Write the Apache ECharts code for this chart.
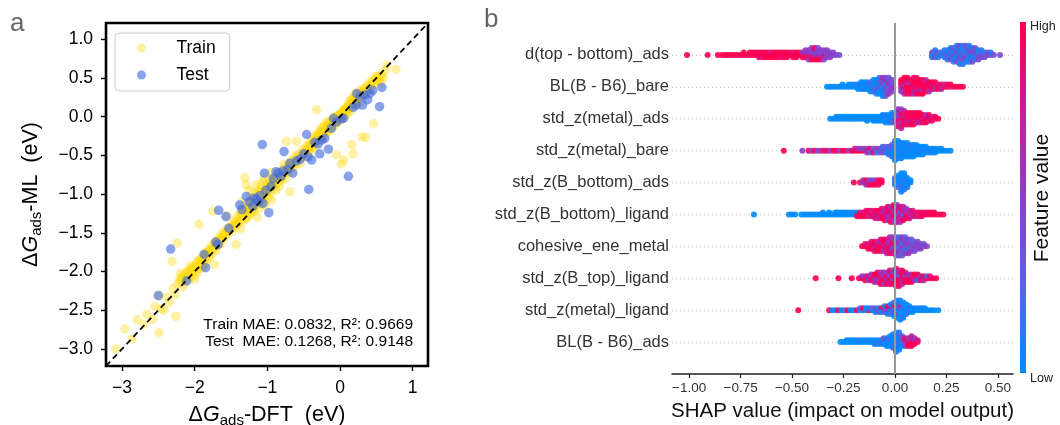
<!DOCTYPE html>
<html><head><meta charset="utf-8">
<script src="https://cdn.jsdelivr.net/npm/echarts@6/dist/echarts.min.js"></script>
<style>html,body{margin:0;padding:0;background:#fff}#c{width:1060px;height:425px}</style>
</head><body><div id="c"></div>
<script>
// ---------------- Panel a data ----------------
const parityLimits = [-3.22, 1.21];
const parityXTicks = [-3, -2, -1, 0, 1];
const parityXLabels = ['−3', '−2', '−1', '0', '1'];
const parityYTicks = [1, 0.5, 0, -0.5, -1, -1.5, -2, -2.5, -3];
const parityYLabels = ['1.0', '0.5', '0.0', '−0.5', '−1.0', '−1.5', '−2.0', '−2.5', '−3.0'];
const metricLines = ['Train MAE: 0.0832, R²: 0.9669', 'Test  MAE: 0.1268, R²: 0.9148'];

const trainPoints = [
[-3.08,-3.0],[-2.96,-2.74],[-2.86,-2.87],[-2.79,-2.62],[-2.7,-2.68],[-2.66,-2.55],[-2.58,-2.62],[-2.55,-2.45],[-2.49,-2.79],[-2.49,-2.31],[-2.46,-2.48],[-2.42,-2.5],[-2.38,-2.33],[-2.35,-2.4],[-2.31,-1.87],[-2.3,-2.22],[-2.27,-2.3],[-2.26,-2.58],[-2.24,-1.63],[-2.23,-2.16],[-2.2,-2.08],[-2.19,-2.02],[-2.17,-2.2],[-2.15,-2.05],[-2.13,-2.14],[-2.1,-2.0],[-2.08,-2.1],[-2.06,-1.93],[-2.05,-2.03],[-2.03,-1.98],[-2.0,-1.92],[-1.99,-2.02],[-1.97,-1.88],[-1.96,-1.97],[-1.94,-1.39],[-1.93,-1.9],[-1.92,-1.84],[-1.9,-1.95],[-1.89,-1.8],[-1.87,-1.86],[-1.86,-1.76],[-1.85,-1.9],[-1.83,-1.75],[-1.82,-1.83],[-1.8,-1.72],[-1.79,-1.8],[-1.78,-1.68],[-1.76,-1.77],[-1.75,-1.22],[-1.74,-1.7],[-1.73,-1.91],[-1.72,-1.62],[-1.7,-1.72],[-1.69,-1.6],[-1.68,-1.66],[-1.66,-1.56],[-1.65,-1.64],[-1.63,-1.52],[-1.62,-1.6],[-1.6,-1.5],[-1.58,-1.55],[-1.56,-1.45],[-1.55,-1.28],[-1.53,-1.5],[-1.5,-1.42],[-1.48,-1.47],[-1.46,-1.36],[-1.44,-1.42],[-1.43,-1.65],[-1.42,-1.3],[-1.4,-1.38],[-1.38,-1.26],[-1.37,-1.45],[-1.35,-1.3],[-1.33,-1.2],[-1.31,-0.79],[-1.3,-1.32],[-1.29,-0.88],[-1.28,-1.22],[-1.27,-1.15],[-1.26,-1.28],[-1.25,-1.18],[-1.24,-1.1],[-1.23,-1.25],[-1.22,-1.05],[-1.21,-1.2],[-1.2,-1.12],[-1.19,-0.98],[-1.18,-1.22],[-1.17,-1.08],[-1.16,-1.15],[-1.15,-1.0],[-1.14,-1.3],[-1.13,-1.1],[-1.12,-0.95],[-1.11,-1.18],[-1.1,-1.05],[-1.09,-0.9],[-1.08,-1.12],[-1.07,-1.0],[-1.06,-0.85],[-1.05,-1.08],[-1.04,-0.95],[-1.03,-1.15],[-1.02,-0.92],[-1.01,-1.0],[-1.0,-0.88],[-0.99,-1.05],[-0.98,-0.95],[-0.97,-0.82],[-0.96,-0.98],[-0.95,-0.9],[-0.94,-1.08],[-0.93,-0.85],[-0.92,-0.93],[-0.91,-0.78],[-0.9,-0.88],[-0.89,-0.82],[-0.88,-0.95],[-0.87,-0.78],[-0.86,-0.86],[-0.85,-0.72],[-0.84,-0.8],[-0.83,-0.9],[-0.82,-0.74],[-0.8,-0.82],[-0.79,-0.68],[-0.78,-0.76],[-0.77,-0.62],[-0.76,-0.72],[-0.75,-0.8],[-0.74,-0.32],[-0.73,-0.66],[-0.72,-0.72],[-0.71,-0.6],[-0.7,-0.7],[-0.69,-0.97],[-0.68,-0.62],[-0.66,-0.56],[-0.65,-0.66],[-0.64,-0.58],[-0.62,-0.52],[-0.6,-0.32],[-0.6,-0.62],[-0.58,-0.55],[-0.56,-0.48],[-0.55,-0.6],[-0.53,-0.5],[-0.51,-0.42],[-0.5,-0.52],[-0.48,-0.45],[-0.46,-0.38],[-0.45,-0.48],[-0.43,-0.4],[-0.42,-0.34],[-0.41,-0.45],[-0.4,-0.36],[-0.38,-0.3],[-0.37,-0.4],[-0.36,-0.33],[-0.35,-0.25],[-0.34,-0.37],[-0.33,-0.3],[-0.32,0.09],[-0.31,-0.22],[-0.3,-0.32],[-0.29,-0.26],[-0.28,-0.18],[-0.27,-0.28],[-0.26,-0.2],[-0.25,-0.14],[-0.24,-0.26],[-0.23,-0.18],[-0.22,-0.12],[-0.21,-0.22],[-0.2,-0.15],[-0.19,-0.08],[-0.18,-0.2],[-0.17,-0.12],[-0.16,-0.06],[-0.15,-0.16],[-0.14,-0.1],[-0.13,-0.18],[-0.12,-0.05],[-0.11,-0.13],[-0.1,-0.08],[-0.09,-0.02],[-0.08,-0.12],[-0.07,-0.05],[-0.06,0.0],[-0.05,-0.49],[-0.05,-0.08],[-0.04,-0.03],[-0.03,0.02],[-0.02,-0.06],[-0.01,-0.01],[0.0,0.03],[0.01,-0.04],[0.02,-0.61],[0.02,0.02],[0.03,0.06],[0.04,-0.02],[0.05,-0.56],[0.05,0.05],[0.06,0.1],[0.07,0.0],[0.08,0.08],[0.09,0.12],[0.1,0.04],[0.11,0.15],[0.12,0.1],[0.13,0.2],[0.14,0.07],[0.15,0.18],[0.16,-0.36],[0.16,0.22],[0.17,0.13],[0.18,-0.48],[0.18,0.25],[0.19,0.18],[0.2,0.28],[0.21,0.2],[0.22,0.3],[0.23,0.24],[0.24,0.15],[0.25,0.3],[0.26,0.26],[0.27,0.34],[0.28,0.2],[0.3,-0.26],[0.3,0.32],[0.31,0.27],[0.33,0.36],[0.35,-0.27],[0.35,0.3],[0.37,0.4],[0.39,0.34],[0.41,0.44],[0.43,0.38],[0.45,0.48],[0.46,-0.09],[0.47,0.42],[0.49,0.52],[0.51,0.46],[0.53,0.5],[0.55,0.44],[0.57,0.55],[0.6,0.5],[0.62,0.6],[0.645,0.665],[0.77,0.61],
[-2.21,-2.12],[-2.18,-2.1],[-2.14,-2.08],[-2.12,-2.02],[-2.09,-2.06],[-2.07,-1.98],[-2.04,-1.96],[-2.02,-2.06],[-1.98,-1.94],[-1.95,-1.86],[-1.91,-1.88],[-1.88,-1.92],[-1.84,-1.78],[-1.81,-1.74],[-1.77,-1.72],[-1.74,-1.64],[-1.71,-1.66],[-1.67,-1.6],[-1.64,-1.58],[-1.61,-1.55],[-2.0,-2.1],[-1.95,-2.0],[-1.9,-1.82],[-1.86,-1.82],
[-1.59,-1.52],[-1.55,-1.48],[-1.52,-1.45],[-1.49,-1.4],[-1.45,-1.4],[-1.41,-1.35],
[-1.39,-1.33],[-1.36,-1.24],[-1.34,-1.35],[-1.32,-1.25],[-1.3,-1.18],[-1.28,-1.3],[-1.26,-1.2],[-1.24,-1.16],[-1.22,-1.14],[-1.2,-1.22],[-1.18,-1.12],[-1.16,-1.06],[-1.14,-1.12],[-1.12,-1.04],[-1.1,-0.98],[-1.08,-1.06],[-1.06,-0.98],[-1.04,-1.02],[-1.02,-0.96],[-1.0,-0.94],[-0.98,-0.88],[-0.96,-0.92],[-0.94,-0.86],[-0.92,-0.88],[-0.9,-0.82],[-0.88,-0.86],[-0.86,-0.8],[-0.84,-0.76],[-1.25,-0.95],[-1.15,-0.88],[-1.35,-1.1],[-1.05,-0.8],[-0.95,-0.72],
[-0.82,-0.8],[-0.79,-0.74],[-0.76,-0.68],[-0.73,-0.7],[-0.7,-0.64],[-0.67,-0.62],[-0.63,-0.6],[-0.59,-0.5],[-0.54,-0.52],[-0.5,-0.46],[-0.47,-0.44],
[-0.44,-0.44],[-0.4,-0.4],[-0.36,-0.36],[-0.33,-0.27],[-0.3,-0.25],[-0.27,-0.24],[-0.24,-0.2],[-0.21,-0.18],[-0.18,-0.15],[-0.15,-0.12],[-0.12,-0.1],[-0.1,-0.04],[-0.07,-0.02],[-0.04,0.0],[-0.02,0.01],[0.01,0.04],[0.04,0.08],[0.07,0.09],[0.1,0.12],[0.13,0.14],[0.16,0.17],[0.19,0.22],[0.22,0.22],[0.25,0.25],[0.28,0.3],[0.32,0.33],[0.36,0.36],[0.4,0.4],[0.44,0.42],[0.48,0.47],[0.52,0.52],[0.56,0.5]
];
const testPoints = [
[-2.5,-2.31],[-2.33,-1.71],[-2.11,-2.12],[-1.87,-1.78],[-1.85,-1.95],[-1.71,-1.62],[-1.68,-1.65],[-1.67,-1.21],[-1.57,-1.29],[-1.53,-1.44],[-1.38,-1.14],[-1.35,-1.2],[-1.29,-1.03],[-1.25,-1.1],[-1.2,-1.16],[-1.18,-1.05],[-1.15,-1.07],[-1.12,-1.1],[-1.1,-1.02],[-1.07,-0.36],[-1.06,-1.12],[-1.04,-0.73],[-1.02,-0.95],[-0.98,-1.24],[-0.95,-0.9],[-0.92,-0.8],[-0.88,-0.71],[-0.85,-0.73],[-0.81,-0.77],[-0.78,-0.7],[-0.77,-0.45],[-0.72,-0.68],[-0.69,-0.6],[-0.65,-0.73],[-0.6,-0.57],[-0.55,-0.55],[-0.5,-0.48],[-0.46,-0.23],[-0.44,-0.52],[-0.43,-0.94],[-0.39,-0.56],[-0.35,-0.33],[-0.3,-0.35],[-0.28,-0.48],[-0.25,-0.3],[-0.21,-0.28],[-0.16,-0.42],[-0.12,-0.15],[-0.09,-0.02],[-0.05,-0.07],[0.02,-0.03],[0.05,-0.02],[0.115,-0.77],[0.18,0.12],[0.22,0.15],[0.23,0.3],[0.28,0.26],[0.31,0.15],[0.34,0.28],[0.38,0.22],[0.41,0.3],[0.45,0.34],[0.544,0.129],[0.576,0.378]
];

// ---------------- Panel b data ----------------
// feature names, top row first
const featureNames = ['d(top - bottom)_ads','BL(B - B6)_bare','std_z(metal)_ads','std_z(metal)_bare','std_z(B_bottom)_ads','std_z(B_bottom)_ligand','cohesive_ene_metal','std_z(B_top)_ligand','std_z(metal)_ligand','BL(B - B6)_ads'];
const shapTicks = [-1, -0.75, -0.5, -0.25, 0, 0.25, 0.5];
const shapTickLabels = ['−1.00', '−0.75', '−0.50', '−0.25', '0.00', '0.25', '0.50'];
const shapLimits = [-1.083, 0.573];
// each entry: [SHAP value, [feature value (0 low .. 1 high) of every sample at that value]]
const shapDTopBottomAds = [
[-1.01,[1]],[-0.91,[1]],[-0.86,[1]],[-0.84,[1]],[-0.825,[1]],[-0.81,[1]],[-0.795,[1]],[-0.78,[1]],[-0.765,[1]],[-0.75,[1]],[-0.735,[1,1]],[-0.72,[1]],[-0.705,[1,1]],
[-0.69,[1,1]],[-0.675,[1,1]],[-0.66,[1,1,1]],[-0.645,[1,1,0.85]],[-0.63,[1,1,1]],[-0.615,[1,1,1]],[-0.6,[1,0.85,1]],[-0.585,[1,1,1]],[-0.57,[1,1,1]],[-0.555,[1,1,0.85]],[-0.54,[1,1,1]],[-0.525,[1,1,1]],[-0.51,[1,1]],[-0.495,[1,0.85,1]],[-0.48,[1,1,1]],[-0.465,[1,1]],[-0.45,[1,0.6,1]],
[-0.435,[0.5,0.6,1,0.5]],[-0.42,[0.5,0.45,1,0.55,0.5]],[-0.405,[0.45,0.5,1,0.5,1,0.45]],[-0.39,[0.5,0.45,0.55,0.5,1,1]],[-0.375,[0.45,0.5,0.6,0.45,1,0.5]],[-0.36,[0.5,0.45,0.5,0.5,1]],[-0.345,[0.45,0.5,1,0.5,0.45]],[-0.33,[0.5,0.45,0.55,0.5]],[-0.315,[0.45,0.5,0.5]],[-0.3,[0.45,0.5]],[-0.285,[0.45]],[-0.27,[0.4]],
[0.18,[0.1,0.4,0.1]],[0.195,[0.1,0.1,0.4,0.1]],[0.21,[0.1,0.35,0.1]],[0.225,[0.1,0.1]],[0.24,[0.1,0.4,0.1,0.1]],[0.255,[0.1,0.1,0.4,0.1,0.1]],[0.27,[0.1,0.4,0.1,0.1,0.45,0.1]],[0.285,[0.1,0.1,0.4,0.1,0.1,0.35,0.1]],[0.3,[0.1,0.4,0.1,0.45,0.1,0.1,0.4,0.1]],[0.315,[0.1,0.1,0.4,0.1,0.45,0.1,0.1,0.4,0.1]],[0.33,[0.1,0.4,0.1,0.1,0.45,0.1,0.35,0.1,0.1]],[0.345,[0.1,0.1,0.45,0.1,0.4,0.1,0.1,0.4]],[0.36,[0.4,0.1,0.1,0.45,0.1,0.4,0.1,0.1]],[0.375,[0.1,0.45,0.1,0.4,0.1,0.1,0.45]],[0.39,[0.1,0.4,0.1,0.45,0.1,0.4]],[0.405,[0.4,0.1,0.45,0.1,0.4]],[0.42,[0.1,0.4,0.45,0.1]],[0.435,[0.4,0.1,0.4]],[0.45,[0.4,0.45]],[0.465,[0.4,0.1]],[0.48,[0.4]],[0.51,[0.4]]
];
const shapBLBareB6 = [
[-0.33,[0]],[-0.315,[0]],[-0.3,[0]],[-0.285,[0]],[-0.27,[0]],[-0.255,[0,0]],[-0.24,[0]],[-0.225,[0,0]],[-0.21,[0,0]],[-0.195,[0,0]],[-0.18,[0,0.1,0]],[-0.165,[0,0.1,0,0]],[-0.15,[0,0,0.1,0]],[-0.135,[0,0.1,0,0]],[-0.12,[0,0.1,0,0.3,0]],[-0.105,[0.1,0,0.3,0,0.1,0]],[-0.09,[0,0.3,0.1,0,0.4,0,0.1]],[-0.075,[0.1,0,0.4,0.1,0,0.3,0,0.1]],[-0.06,[0,0.4,0.1,0.5,0,0.3,0.1,0.6,0]],[-0.045,[0.3,0.1,0.5,0,0.4,0.7,0.1,0.5,0.3]],[-0.03,[0.1,0.5,0.3,0.7,0.4,0.5,0.6,0.3]],[-0.015,[0.4,0.5,0.6,0.3,0.5,0.4]],
[0.03,[0.6,0.9,0.6,1,0.5,1]],[0.045,[1,0.6,1,0.9,0.5,1,0.7,1]],[0.06,[1,0.9,1,0.6,1,1,0.9,1]],[0.075,[0.9,1,1,0.6,1,0.9,1]],[0.09,[1,1,0.7,1,0.9,1,0.6,1]],[0.105,[1,0.9,1,1,0.6,1,1,0.9]],[0.12,[1,1,0.9,1,0.7,1,1]],[0.135,[1,0.9,1,1,0.6,1,1]],[0.15,[1,1,0.9,1,1,0.7]],[0.165,[1,0.9,1,1,0.6]],[0.18,[1,0.7,1,1]],[0.195,[1,1,0.6,1]],[0.21,[1,0.8,1]],[0.225,[1,1,0.7]],[0.24,[1,0.7]],[0.255,[1,1]],[0.27,[0.7,1]],[0.285,[1]],[0.3,[1]],[0.315,[1]],[0.33,[1]]
];
const shapStdMetalAds = [
[-0.315,[0]],[-0.3,[0]],[-0.285,[0,0]],[-0.27,[0,0]],[-0.255,[0,0]],[-0.24,[0,0]],[-0.225,[0,0]],[-0.21,[0,0]],[-0.195,[0,0]],[-0.18,[0,0]],[-0.165,[0,0]],[-0.15,[0,0]],[-0.135,[0,0,0]],[-0.12,[0,0]],[-0.105,[0,0,0]],[-0.09,[0,0,0]],[-0.075,[0,0,0]],[-0.06,[0,0,0,0]],[-0.045,[0,0,0,0.1,0]],[-0.03,[0,0,0.1,0,0]],[-0.015,[0,0.1,0,0,0.2,0]],[0,[0.3,0.1,0.5,0.2,0.4]],
[0.015,[0.6,0.4,0.8,0.5,1,0.4,0.7,0.5,0.9,0.6]],[0.03,[1,0.5,1,0.8,0.6,1,0.5,0.9,1,0.5,0.7]],[0.045,[1,0.8,1,0.6,1,0.9,1,0.7]],[0.06,[1,1,0.8,1,0.7,1,0.9]],[0.075,[1,0.9,1,1,0.7,1,1]],[0.09,[1,1,0.8,1,1,0.9,1]],[0.105,[1,1,0.9,1,0.7,1]],[0.12,[1,0.9,1,1,0.8,1]],[0.135,[1,1,0.7,1,0.9]],[0.15,[1,0.9,1,0.6,1]],[0.165,[1,1,0.8,1]],[0.18,[1,0.7,1]],[0.195,[0.8,1]],[0.21,[1]]
];
const shapStdMetalBare = [
[-0.54,[1]],[-0.45,[0.5]],[-0.42,[1]],[-0.405,[0.5]],[-0.39,[1]],[-0.375,[0.5]],[-0.36,[0.6]],[-0.345,[1]],[-0.33,[0.9]],[-0.315,[0.5]],[-0.3,[1]],[-0.285,[1]],[-0.27,[0.5]],[-0.255,[1]],[-0.24,[1]],[-0.225,[0.5]],[-0.21,[1]],[-0.195,[1,0.8]],[-0.18,[1,0.6]],[-0.165,[1,0.5]],[-0.15,[0.9,0.5]],[-0.135,[1,0.5,0.6]],[-0.12,[0.5,1,0.3]],[-0.105,[0.5,0.3,0.9]],[-0.09,[0.4,0.6,0.2]],[-0.075,[0.3,0.5,0.2]],[-0.06,[0.3,0.1,0.5,0.2]],[-0.045,[0.2,0.4,0.1,0.3]],[-0.03,[0.1,0.3,0.1,0.2,0.1]],[-0.015,[0.1,0,0.2,0.1,0,0.3,0.1]],[0,[0,0.1,0,0.2,0,0.1,0,0.2,0,0.1,0]],[0.015,[0,0,0.1,0,0,0.1,0,0,0.1,0]],[0.03,[0,0.1,0,0,0.1,0,0,0.1,0]],[0.045,[0,0,0.1,0,0,0.1,0,0]],[0.06,[0,0.1,0,0,0.1,0,0,0]],[0.075,[0,0,0.1,0,0,0.1,0]],[0.09,[0,0.1,0,0,0,0.1,0]],[0.105,[0,0,0.1,0,0,0]],[0.12,[0,0.1,0,0,0]],[0.135,[0,0,0.1,0,0]],[0.15,[0,0.1,0,0]],[0.165,[0,0,0.1]],[0.18,[0,0,0]],[0.195,[0,0.1,0]],[0.21,[0,0]],[0.225,[0,0]],[0.24,[0]],[0.255,[0]],[0.27,[0]]
];
const shapStdBBottomAds = [
[-0.2,[1]],[-0.17,[1]],[-0.155,[0.5,0.6]],[-0.14,[0.5,1,0.6]],[-0.125,[0.5,0.4,1]],[-0.11,[0.6,0.5,1]],[-0.095,[1,0.5,1]],[-0.08,[1,1,0.9]],[-0.065,[1,1]],
[0,[0,0.1,0,0.1]],[0.015,[0,0.1,0,0,0.2,0]],[0.03,[0,0,0.1,0,0.2,0,0.1,0,0]],[0.045,[0,0.1,0,0.2,0,0,0.1,0]],[0.06,[0,0.1,0,0,0.1]],[0.075,[0,0]]
];
const shapStdBBottomLigand = [
[-0.685,[0]],[-0.515,[0]],[-0.5,[0]],[-0.485,[0]],[-0.455,[0]],[-0.44,[0]],[-0.425,[0]],[-0.41,[0]],[-0.395,[0]],[-0.38,[0]],[-0.365,[0]],[-0.35,[0,0]],[-0.335,[0]],[-0.32,[0,0]],[-0.305,[0]],[-0.29,[0,0]],[-0.275,[0,0]],[-0.26,[0,0]],[-0.245,[0,0]],[-0.23,[0,0]],[-0.215,[0,0]],[-0.2,[0,0.1]],[-0.185,[1,0,0.9]],[-0.17,[1,0.9,1]],[-0.155,[1,0.8,1]],[-0.14,[1,0.7,1,0.9]],[-0.125,[0.9,1,0.7,1]],[-0.11,[1,0.8,1,0.7]],[-0.095,[0.8,1,0.7,1,0.9]],[-0.08,[1,0.7,0.9,1,0.7]],[-0.065,[0.7,1,0.8,0.7,1,0.9]],[-0.05,[0.8,0.7,1,0.6,0.9,0.7,1]],[-0.035,[0.7,0.9,0.6,1,0.7,0.8,0.6,1]],[-0.02,[0.6,0.8,0.7,1,0.6,0.9,0.7,0.6,1]],[-0.005,[0.7,0.6,0.9,0.6,1,0.7,0.5,0.8,0.6,1]],[0.01,[0.6,0.7,0.5,0.9,0.6,1,0.7,0.6,0.8,0.5]],[0.025,[0.6,0.1,0.7,0.6,0.9,0.5,0.7,1,0.6]],[0.04,[0.7,0.6,0.1,0.9,0.6,0.8,1,0.7]],[0.055,[0.8,0.6,1,0.7,0.9,0.6]],[0.07,[1,0.7,0.8,0.6,0.9]],[0.085,[0.8,1,0.7,0.9]],[0.1,[1,0.8,0.9]],[0.115,[0.9,1,0.8]],[0.13,[1,0.9,1]],[0.145,[1,0.9]],[0.16,[1,1]],[0.175,[0.9,1]],[0.19,[1,1]],[0.205,[1]],[0.22,[1]],[0.235,[1]]
];
const shapCohesiveEneMetal = [
[-0.16,[1]],[-0.145,[1,0.9]],[-0.13,[1,0.8,1]],[-0.115,[1,0.9,1,0.8]],[-0.1,[0.9,1,0.7,1,0.9]],[-0.085,[1,0.8,1,0.7,1]],[-0.07,[0.8,1,0.9,0.7,1,0.8]],[-0.055,[1,0.7,0.9,1,0.6,1]],[-0.04,[0.7,1,0.8,0.6,1,0.9,0.7]],[-0.025,[0.9,0.6,1,0.7,0.8,0.6,1,0.7]],[-0.01,[0.6,0.8,0.5,1,0.6,0.7,0.9,0.5]],[0.005,[0.5,0.1,0.6,0.4,0.8,0.5,0,0.6,0.4]],[0.02,[0.4,0.5,0.1,0.6,0.3,0.5,0.7,0.1,0.4]],[0.035,[0.5,0.3,0.6,0.1,0.4,0.5,0.2,0.6,0.3]],[0.05,[0.4,0.5,0.3,0.6,0.1,0.4,0.5,0.3]],[0.065,[0.5,0.4,0.3,0.5,0.2,0.4,0.6]],[0.08,[0.4,0.5,0.3,0.4,0.5,0.3]],[0.095,[0.5,0.4,0.5,0.3,0.4]],[0.11,[0.4,0.5,0.4,0.5]],[0.125,[0.5,0.4,0.5]],[0.14,[0.5,0.4]],[0.155,[0.5]]
];
const shapStdBTopLigand = [
[-0.385,[1]],[-0.275,[1]],[-0.21,[1]],[-0.175,[1]],[-0.16,[1,0.6]],[-0.145,[1,0.5,1]],[-0.13,[0.6,1,0.5]],[-0.115,[1,0.6,1,0.5]],[-0.1,[0.6,1,0.5,1,0.7]],[-0.085,[1,0.5,0.7,1,0.6,1]],[-0.07,[0.6,1,0.5,0.8,1,0.6,1]],[-0.055,[1,0.6,1,0.5,1,0.7,0.6]],[-0.04,[0.5,1,0.6,1,0.7,0.5,1]],[-0.025,[1,0.6,0.9,0.5,1,0.6,0.8,1]],[-0.01,[0.6,1,0.5,1,0.7,0.6,1,0.5]],[0.005,[1,0.7,1,0.5,1,0.6,1,0.8,0.5,1]],[0.02,[1,0.6,1,0.1,1,0.7,1,0.6,1]],[0.035,[0.6,1,0.8,1,0.6,1,0.7,1]],[0.05,[1,0.7,1,0.6,1,0.8]],[0.065,[1,0.6,1,0.7,1]],[0.08,[1,0.8,1,0.6,1]],[0.095,[0.1,1,0.7,1]],[0.11,[1,0.8,0.1,1]],[0.125,[1,0.6,1]],[0.14,[0.1,1,0.7]],[0.155,[1,0.3]],[0.17,[1,0.8]],[0.185,[1]],[0.2,[1]]
];
const shapStdMetalLigand = [
[-0.47,[1]],[-0.32,[1]],[-0.305,[0]],[-0.29,[0]],[-0.275,[1]],[-0.26,[0]],[-0.245,[0.1]],[-0.23,[1]],[-0.215,[0]],[-0.2,[0]],[-0.185,[1]],[-0.17,[0,0.1]],[-0.155,[0,1]],[-0.14,[0.1,0]],[-0.125,[1,0]],[-0.11,[0,0.3]],[-0.095,[0,0.4,0]],[-0.08,[1,0,0.3]],[-0.065,[0.3,1,0]],[-0.05,[0,1,0.4,0]],[-0.035,[0.3,0,0.6,1,0]],[-0.02,[0,0.4,0,1,0.2,0]],[-0.005,[0.1,0,0.5,0,0.3,1,0,0.2]],[0.01,[0,0.1,0,0.4,0,0.2,1,0,0.1,0]],[0.025,[0,0.7,0,0.1,0,1,0,0.2,0,0.1,0]],[0.04,[0,0.1,0,0.3,0,0.1,0,0,0.1]],[0.055,[0,0.1,0,0,0.1,0]],[0.07,[0,0,0.1,0]],[0.085,[0,0.1,0]],[0.1,[0,0]],[0.115,[0,0]],[0.13,[0,0.1]],[0.145,[0,0]],[0.16,[0]],[0.175,[0]],[0.19,[0]],[0.21,[0]]
];
const shapBLAdsB6 = [
[-0.265,[0]],[-0.25,[0]],[-0.235,[0,0]],[-0.22,[0,0]],[-0.205,[0,0]],[-0.19,[0,0]],[-0.175,[0,0.1]],[-0.16,[0,0]],[-0.145,[0,0]],[-0.13,[0,0.1]],[-0.115,[0,0]],[-0.1,[0,0,0.1]],[-0.085,[0,0.1,0]],[-0.07,[0,0,0.2]],[-0.055,[0,0.1,0,0.3]],[-0.04,[0,0.2,0,0.1,0]],[-0.025,[0,0.1,0,0.3,0,0.1]],[-0.01,[0,0.1,0,0,0.2,0,0.1,0]],[0.005,[0,0.1,0,0.2,0,0,0.1,0,1,0,0.1]],[0.02,[0.1,0,0.2,0,0.1,0,0,0.3,0,0.1]],[0.035,[0.2,0.5,0.1,0.4,0,0.3]],[0.05,[0.6,1,0.5,0.9,0.4]],[0.065,[1,0.7,1,0.6,1]],[0.08,[1,0.6,1,0.8,1,0.7]],[0.095,[1,0.7,1,0.6]],[0.11,[1,0.8]]
];
// rows in display order (top first), matching featureNames
const shapRows = [shapDTopBottomAds, shapBLBareB6, shapStdMetalAds, shapStdMetalBare, shapStdBBottomAds, shapStdBBottomLigand, shapCohesiveEneMetal, shapStdBTopLigand, shapStdMetalLigand, shapBLAdsB6];

// ---------------- layout helpers ----------------
const FONT = "'Liberation Sans', Arial, sans-serif";
function tickLabel(ticks, labels) {
  return function (v) { const i = ticks.findIndex(t => Math.abs(t - v) < 1e-6); return i < 0 ? '' : labels[i]; };
}
// beeswarm stacking (as in shap's summary plot): alternate above/below per shared value
function swarm(groups, rowPos) {
  let maxHalf = 0;
  groups.forEach(g => { maxHalf = Math.max(maxHalf, Math.ceil((g[1].length - 1) / 2)); });
  const scale = 0.9 * 0.4 / (maxHalf + 1);
  const pts = [];
  groups.forEach(g => g[1].forEach((f, layer) => {
    const off = Math.ceil(layer / 2) * ((layer % 2) * 2 - 1);
    pts.push([g[0], rowPos + off * scale, f]);
  }));
  return pts;
}
const nRows = featureNames.length;
let swarmData = [];
shapRows.forEach((rows, i) => { swarmData = swarmData.concat(swarm(rows, nRows - 1 - i)); });
const rowPositions = featureNames.map((_, i) => i);

const cmap = ['#008bfb', '#5a62e2', '#8c3fc9', '#c61c99', '#ff0052'];

const axisNameRich = {
  a: { fontSize: 21.5, lineHeight: 26, fontFamily: FONT, color: '#000' },
  i: { fontSize: 21.5, lineHeight: 26, fontStyle: 'italic', fontFamily: FONT, color: '#000' },
  s: { fontSize: 15, lineHeight: 11, verticalAlign: 'bottom', fontFamily: FONT, color: '#000' }
};

const chart = echarts.init(document.getElementById('c'), null, { renderer: 'canvas' });
chart.setOption({
  animation: false,
  backgroundColor: '#fff',
  textStyle: { fontFamily: FONT },
  grid: [
    { left: 106, top: 23, width: 322, height: 343, show: true, borderColor: '#000', borderWidth: 2.6, backgroundColor: 'transparent', containLabel: false, outerBoundsMode: 'none' },
    { left: 672, top: 23, width: 341, height: 351, show: false, containLabel: false, outerBoundsMode: 'none' }
  ],
  legend: {
    data: ['Train', 'Test'], orient: 'vertical', left: 115, top: 33,
    padding: [6, 14, 7, 22], itemWidth: 54, itemHeight: 9, itemGap: 9,
    icon: 'circle', symbolKeepAspect: true,
    backgroundColor: 'rgba(255,255,255,0.8)', borderColor: '#cccccc', borderWidth: 1, borderRadius: 4,
    textStyle: { fontSize: 17.5, color: '#000', fontFamily: FONT, lineHeight: 18, padding: [0, 0, 0, 3] }
  },
  xAxis: [
    {
      gridIndex: 0, type: 'value', min: parityLimits[0], max: parityLimits[1],
      axisLine: { show: false, onZero: false }, splitLine: { show: false },
      axisTick: { show: true, customValues: parityXTicks, length: 5, lineStyle: { color: '#000', width: 1.4 } },
      axisLabel: { customValues: parityXTicks, formatter: tickLabel(parityXTicks, parityXLabels), fontSize: 17.5, color: '#000', margin: 13, fontFamily: FONT },
      name: '{a|Δ}{i|G}{s|ads}{a|-DFT  (eV)}', nameLocation: 'middle', nameGap: 36,
      nameTextStyle: { color: '#000', fontFamily: FONT, rich: axisNameRich }
    },
    {
      gridIndex: 1, type: 'value', min: shapLimits[0], max: shapLimits[1],
      axisLine: { show: true, onZero: false, lineStyle: { color: '#222', width: 1.6 } }, splitLine: { show: false },
      axisTick: { show: true, customValues: shapTicks, length: 4, lineStyle: { color: '#222', width: 1.2 } },
      axisLabel: { customValues: shapTicks, formatter: tickLabel(shapTicks, shapTickLabels), fontSize: 13.5, color: '#333', margin: 7, fontFamily: FONT },
      name: 'SHAP value (impact on model output)', nameLocation: 'middle', nameGap: 27,
      nameTextStyle: { fontSize: 20.5, color: '#111', fontFamily: FONT }
    }
  ],
  yAxis: [
    {
      gridIndex: 0, type: 'value', min: parityLimits[0], max: parityLimits[1],
      axisLine: { show: false, onZero: false }, splitLine: { show: false },
      axisTick: { show: true, customValues: parityYTicks, length: 5, lineStyle: { color: '#000', width: 1.4 } },
      axisLabel: { customValues: parityYTicks, formatter: tickLabel(parityYTicks, parityYLabels), fontSize: 17.5, color: '#000', margin: 13, fontFamily: FONT },
      name: '{a|Δ}{i|G}{s|ads}{a|-ML  (eV)}', nameLocation: 'middle', nameGap: 62,
      nameTextStyle: { color: '#000', fontFamily: FONT, rich: axisNameRich }
    },
    {
      gridIndex: 1, type: 'value', min: -1, max: nRows,
      axisLine: { show: false, onZero: false }, axisTick: { show: false }, splitLine: { show: false },
      axisLabel: { customValues: rowPositions, formatter: v => featureNames[nRows - 1 - Math.round(v)], fontSize: 16.5, color: '#333', margin: 3, fontFamily: FONT }
    }
  ],
  visualMap: {
    show: false, type: 'continuous', min: 0, max: 1, dimension: 2, seriesIndex: 4,
    inRange: { color: cmap }
  },
  series: [
    { name: 'Train', type: 'scatter', xAxisIndex: 0, yAxisIndex: 0, data: trainPoints, symbolSize: 9.5,
      itemStyle: { color: '#FFD700', opacity: 0.36 }, z: 2 },
    { name: 'Test', type: 'scatter', xAxisIndex: 0, yAxisIndex: 0, data: testPoints, symbolSize: 9.5,
      itemStyle: { color: '#4169E1', opacity: 0.62 }, z: 3 },
    { name: 'diag', type: 'line', xAxisIndex: 0, yAxisIndex: 0, symbol: 'none', silent: true,
      data: [[parityLimits[0], parityLimits[0]], [parityLimits[1], parityLimits[1]]],
      lineStyle: { color: '#000', width: 1.8, type: [6, 4] }, z: 4 },
    { name: 'rows', type: 'scatter', xAxisIndex: 1, yAxisIndex: 1, data: [], silent: true,
      markLine: { silent: true, symbol: 'none', z: 1, label: { show: false },
        lineStyle: { color: '#c8c8c8', width: 1, type: [1, 3] },
        data: rowPositions.map(r => ({ yAxis: r })) } },
    { name: 'shap', type: 'scatter', xAxisIndex: 1, yAxisIndex: 1, data: swarmData, symbolSize: 6,
      itemStyle: { opacity: 0.9 }, z: 3 },
    { name: 'zero', type: 'scatter', xAxisIndex: 1, yAxisIndex: 1, data: [], silent: true,
      markLine: { silent: true, symbol: 'none', z: 10, label: { show: false },
        lineStyle: { color: '#999', width: 2, type: 'solid' },
        data: [{ xAxis: 0 }] } }
  ],
  graphic: [
    { type: 'text', x: 10, y: 24, style: { text: 'a', fill: '#666', font: '26px ' + FONT, verticalAlign: 'middle' } },
    { type: 'text', x: 484, y: 20, style: { text: 'b', fill: '#666', font: '26px ' + FONT, verticalAlign: 'middle' } },
    { type: 'text', x: 413, y: 325, style: { text: metricLines[0], fill: '#000', font: '15.5px ' + FONT, align: 'right', verticalAlign: 'middle' } },
    { type: 'text', x: 413, y: 342, style: { text: metricLines[1], fill: '#000', font: '15.5px ' + FONT, align: 'right', verticalAlign: 'middle' } },
    { type: 'rect', shape: { x: 1020, y: 22, width: 6, height: 351 },
      style: { fill: new echarts.graphic.LinearGradient(0, 0, 0, 1, [
        { offset: 0, color: cmap[4] }, { offset: 0.25, color: cmap[3] }, { offset: 0.5, color: cmap[2] },
        { offset: 0.75, color: cmap[1] }, { offset: 1, color: cmap[0] }]) } },
    { type: 'text', x: 1030, y: 27, style: { text: 'High', fill: '#222', font: '12.5px ' + FONT, verticalAlign: 'middle' } },
    { type: 'text', x: 1030, y: 379, style: { text: 'Low', fill: '#222', font: '12.5px ' + FONT, verticalAlign: 'middle' } },
    { type: 'text', x: 1042, y: 198, rotation: Math.PI / 2, style: { text: 'Feature value', fill: '#111', font: '21px ' + FONT, align: 'center', verticalAlign: 'middle' } }
  ]
});
</script>
</body></html>
